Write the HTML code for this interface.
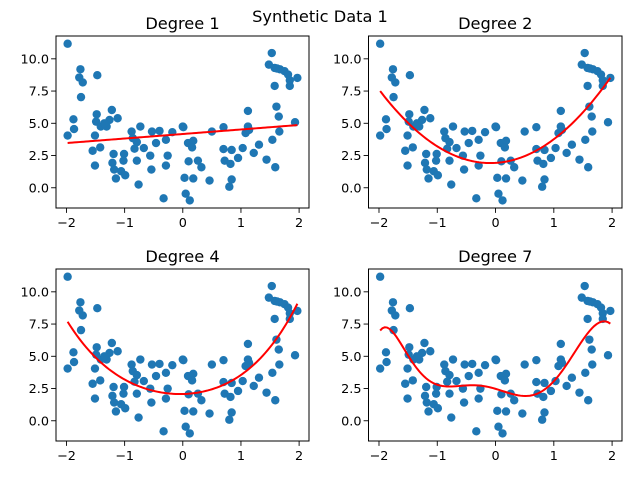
<!DOCTYPE html>
<html><head><meta charset="utf-8"><style>
body{margin:0;background:#fff}
svg{display:block;font-family:"DejaVu Sans","Liberation Sans",sans-serif}
</style></head><body>
<svg id="fig" width="640" height="480" viewBox="0 0 640 480" xmlns="http://www.w3.org/2000/svg">
<rect width="640" height="480" fill="#fff"/>
<text x="320" y="22" text-anchor="middle" font-size="16.2">Synthetic Data 1</text>
</svg>
<script>
const xData=[-1.98,-1.76,-1.78,-1.72,-1.75,-1.47,-1.88,-1.98,-1.87,-1.48,-1.49,-1.41,-1.31,-1.26,-1.22,-1.12,-1.35,-1.51,-1.55,-1.42,-1.51,-1.19,-1.21,-1.18,-1.15,-1.06,-0.99,-1.01,-1.02,-0.88,-0.86,-0.73,-0.79,-0.83,-0.67,-0.79,-0.76,-0.56,-0.54,-0.53,-0.46,-0.40,-0.29,-0.26,-0.29,-0.33,-0.18,0.0,0.01,0.09,0.18,0.16,0.10,0.26,0.32,0.03,0.18,0.05,0.12,0.46,0.50,0.70,0.70,0.84,0.72,0.82,0.95,1.03,0.84,0.80,1.12,1.12,1.08,1.14,1.22,1.31,1.44,1.54,1.59,1.66,1.61,1.65,1.93,1.53,1.48,1.58,1.67,1.75,1.81,1.84,1.97,1.84,1.58,1.62];
const yData=[11.17,9.19,8.55,8.17,7.03,8.73,5.31,4.05,4.55,5.7,5.13,4.75,4.75,5.26,6.03,5.39,5.0,4.05,2.87,3.13,1.72,2.62,1.93,1.41,0.72,1.28,0.97,2.62,2.1,4.36,3.85,4.75,3.54,3.03,3.08,2.1,0.25,2.49,1.41,4.36,3.47,4.41,3.72,2.49,1.72,-0.82,4.31,4.75,4.7,3.47,3.64,3.13,2.05,2.1,1.59,0.77,0.72,-0.46,-0.98,0.56,4.36,4.7,3.0,2.93,2.1,1.85,2.31,3.08,0.64,0.08,5.96,4.75,4.24,4.49,2.7,3.34,2.18,3.72,1.59,4.36,6.29,5.52,5.08,10.45,9.55,9.29,9.19,9.04,8.78,8.34,8.52,7.9,7.9,9.25];
const degrees=[1,2,4,7];
const xTicks=[-2,-1,0,1,2];
const yTicks=[0,2.5,5,7.5,10];
const yTickLabels=["0.0","2.5","5.0","7.5","10.0"];
const xLim=[-2.18,2.17], yLim=[-1.57,11.77];
const boxes=[[56,36,309,208],[368.5,36,622,208],[56,269,309,441],[368.5,269,622,441]];
const NS="http://www.w3.org/2000/svg";
const svg=document.getElementById('fig');
function mk(tag,attrs,parent){const e=document.createElementNS(NS,tag);for(const k in attrs)e.setAttribute(k,attrs[k]);(parent||svg).appendChild(e);return e;}
function polyfit(xs,ys,d){
  const n=d+1,A=[];
  for(let i=0;i<n;i++){A.push(new Array(n+1).fill(0));}
  for(let k=0;k<xs.length;k++){
    const p=[];let v=1;for(let i=0;i<2*n;i++){p.push(v);v*=xs[k];}
    for(let i=0;i<n;i++){for(let j=0;j<n;j++)A[i][j]+=p[i+j];A[i][n]+=p[i]*ys[k];}
  }
  for(let c=0;c<n;c++){
    let m=c;for(let r=c+1;r<n;r++)if(Math.abs(A[r][c])>Math.abs(A[m][c]))m=r;
    [A[c],A[m]]=[A[m],A[c]];
    for(let r=0;r<n;r++){if(r===c)continue;const f=A[r][c]/A[c][c];for(let j=c;j<=n;j++)A[r][j]-=f*A[c][j];}
  }
  return A.map((row,i)=>row[n]/row[i]);
}
degrees.forEach((deg,idx)=>{
  const [L,T,R,B]=boxes[idx];
  const sx=v=>L+(v-xLim[0])/(xLim[1]-xLim[0])*(R-L);
  const sy=v=>B-(v-yLim[0])/(yLim[1]-yLim[0])*(B-T);
  const g=mk('g',{});
  
  
  const t=mk('text',{x:(L+R)/2,y:T-7,'text-anchor':'middle','font-size':'16.2'},g);
  t.textContent='Degree '+deg;
  
  
  xTicks.forEach(v=>{
    const x=sx(v);
    const tk=mk('line',{x1:x,x2:x,y1:B,y2:B+4.9,stroke:'#000','stroke-width':0.9},g);
    
    
    const lb=mk('text',{x:x,y:B+19,'text-anchor':'middle','font-size':'12.8'},g);
    lb.textContent=v<0?'\u2212'+(-v):String(v);
    
    
  });
  yTicks.forEach((v,i)=>{
    const y=sy(v);
    const tk=mk('line',{x1:L-4.9,x2:L,y1:y,y2:y,stroke:'#000','stroke-width':0.9},g);
    
    
    const lb=mk('text',{x:L-7,y:y+4.5,'text-anchor':'end','font-size':'12.8'},g);
    lb.textContent=yTickLabels[i];
    
    
  });
  xData.forEach((xv,i)=>{
    const c=mk('circle',{cx:sx(xv),cy:sy(yData[i]),r:4.2,fill:'#1f77b4'},g);
    
    
  });
  const coef=polyfit(xData,yData,deg);
  const xmin=Math.min(...xData),xmax=Math.max(...xData);
  let d='';
  for(let k=0;k<=100;k++){
    const xv=xmin+(xmax-xmin)*k/100;
    let yv=0,p=1;for(let j=0;j<coef.length;j++){yv+=coef[j]*p;p*=xv;}
    d+=(k?'L':'M')+sx(xv).toFixed(2)+' '+sy(yv).toFixed(2);
  }
  const pl=mk('path',{d:d,fill:'none',stroke:'#ff0000','stroke-width':2},g);
  
  
  const fr=mk('rect',{x:L,y:T,width:R-L,height:B-T,fill:'none',stroke:'#000','stroke-width':1},g);
  
  
});
</script>
</body></html>
